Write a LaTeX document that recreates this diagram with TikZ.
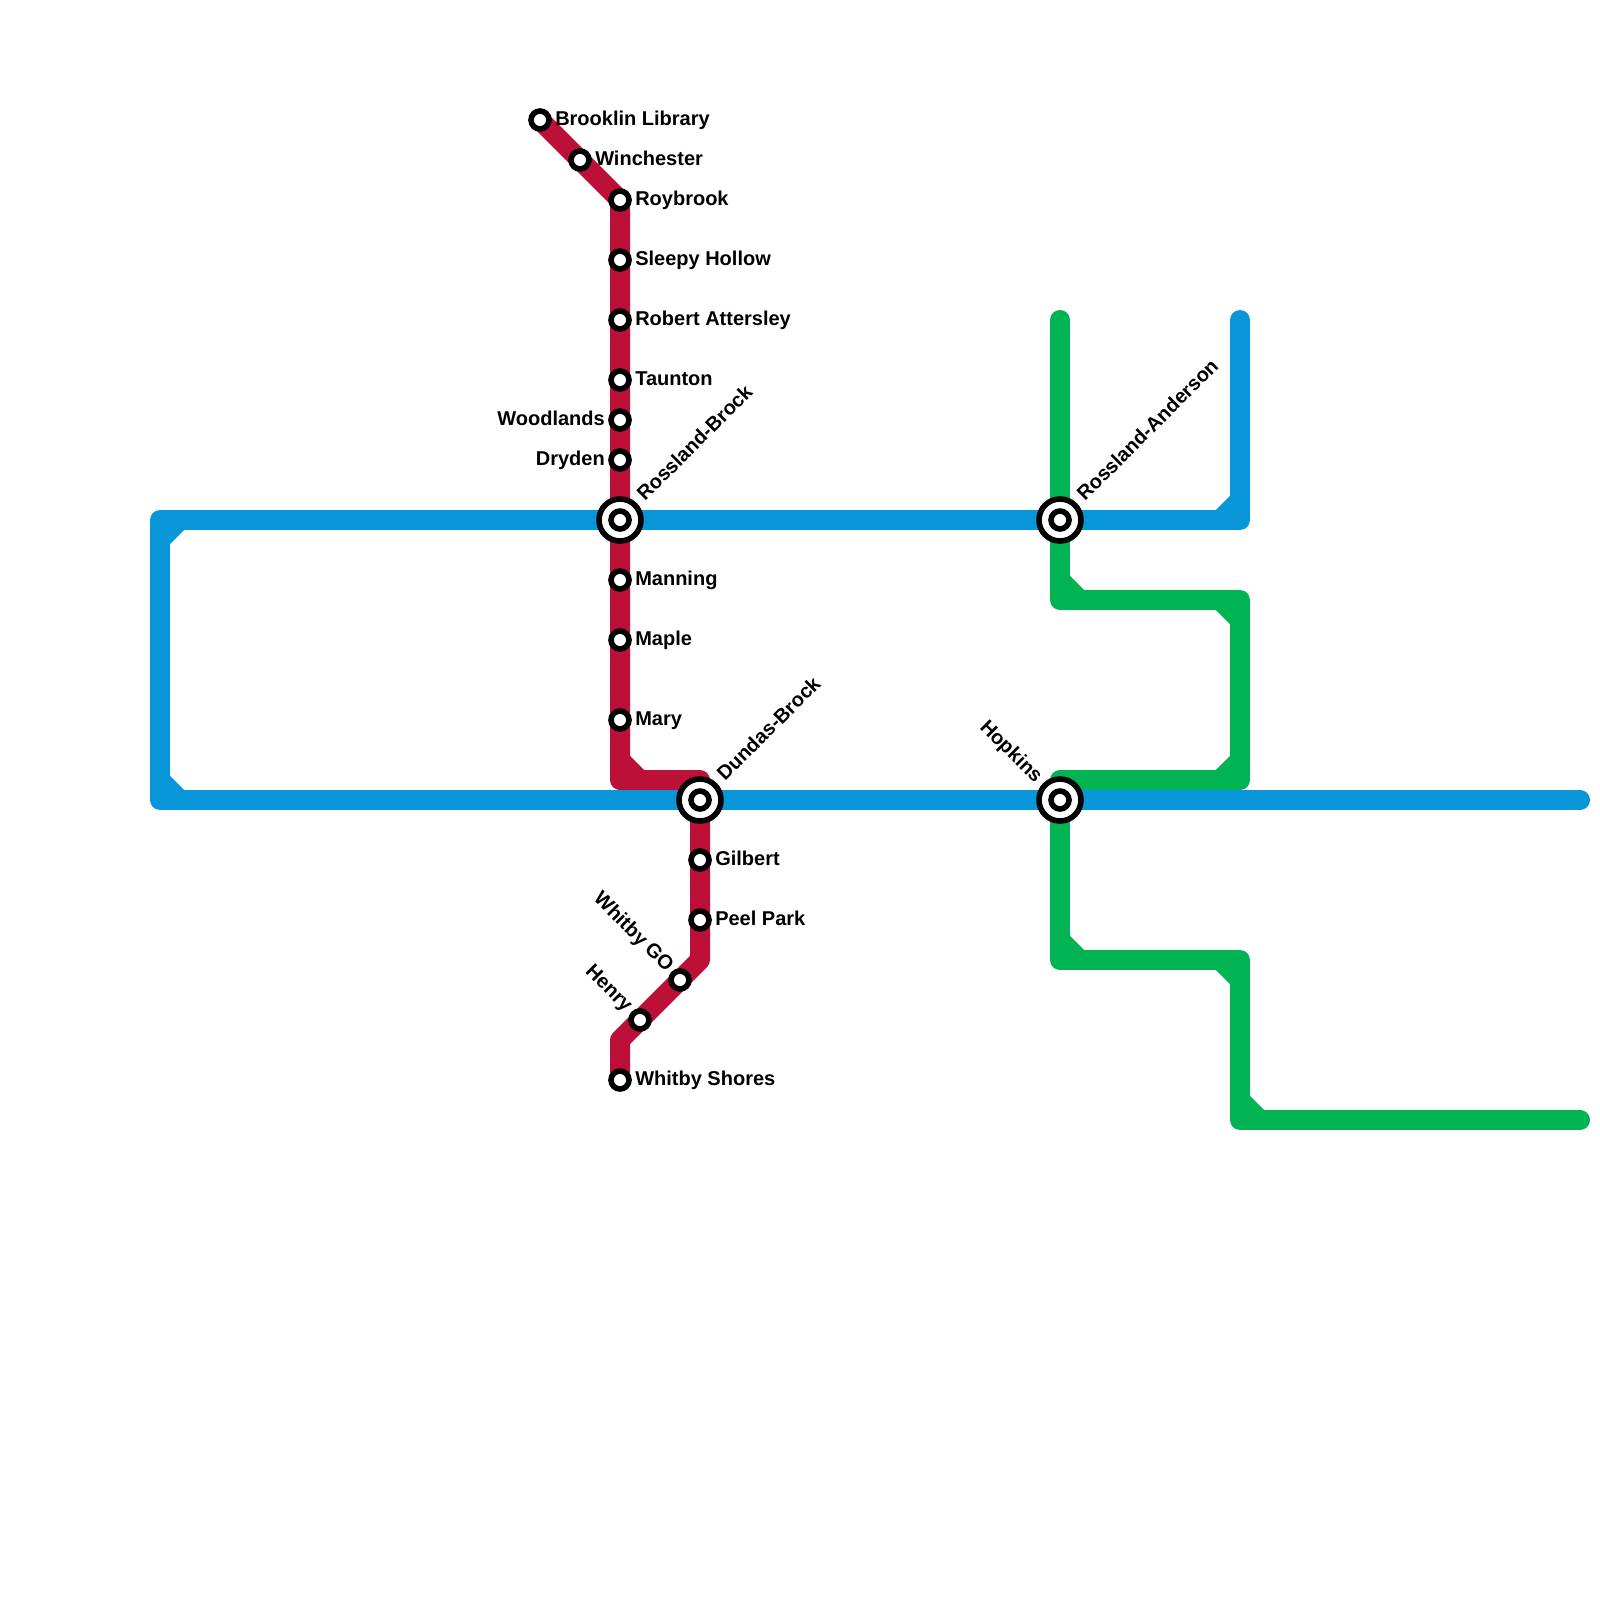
\documentclass[tikz,border=0pt]{standalone}
\usepackage{fontspec}
\setmainfont{Liberation Sans}
\definecolor{redline}{RGB}{189,16,56}
\definecolor{blueline}{RGB}{8,150,216}
\definecolor{greenline}{RGB}{0,179,83}
\tikzset{
  metroline/.style={line width=15pt,line join=round,line cap=round},
  chamfer/.style={line width=15pt,line cap=butt},
  stop/.style={circle,draw=black,fill=white,line width=4.2pt,minimum size=13.5pt,inner sep=0pt},
  hubout/.style={circle,draw=black,fill=white,line width=4.2pt,minimum size=31.5pt,inner sep=0pt},
  stoplabel/.style={inner sep=0pt,font=\bfseries\fontsize{15pt}{18pt}\selectfont,text=black}
}
\begin{document}
\begin{tikzpicture}[x=0.75pt,y=0.75pt,yscale=-1,xscale=1]
\useasboundingbox (0,0) rectangle (1600,1600);

% Stops on the red line
\foreach \n/\px/\py in {brooklin/540/120,winchester/580/160,roybrook/620/200,sleepy/620/260,attersley/620/320,taunton/620/380,woodlands/620/420,dryden/620/460,rosslandbrock/620/520,manning/620/580,maple/620/640,mary/620/720,dundasbrock/700/800,gilbert/700/860,peelpark/700/920,whitbygo/680/980,henry/640/1020,shores/620/1080}
  \coordinate (\n) at (\px,\py);
% Other stops and bends
\coordinate (rosslandanderson) at (1060,520);
\coordinate (hopkins) at (1060,800);
\coordinate (redA) at (620,780);
\coordinate (redB) at (700,780);
\coordinate (redC) at (700,960);
\coordinate (redD) at (620,1040);
\coordinate (blueA) at (1240,320);
\coordinate (blueB) at (1240,520);
\coordinate (blueC) at (160,520);
\coordinate (blueD) at (160,800);
\coordinate (blueE) at (1580,800);
\coordinate (greenA) at (1060,320);
\coordinate (greenB) at (1060,600);
\coordinate (greenC) at (1240,600);
\coordinate (greenD) at (1240,780);
\coordinate (greenE) at (1060,780);
\coordinate (greenF) at (1060,960);
\coordinate (greenG) at (1240,960);
\coordinate (greenH) at (1240,1120);
\coordinate (greenI) at (1580,1120);

% Red line
\draw [metroline,redline,line cap=butt] (brooklin) -- (winchester) -- (roybrook) -- (sleepy) -- (attersley) -- (taunton) -- (woodlands) -- (dryden) -- (rosslandbrock) -- (manning) -- (maple) -- (mary) -- (redA) -- (redB) -- (dundasbrock) -- (gilbert) -- (peelpark) -- (redC) -- (whitbygo) -- (henry) -- (redD) -- (shores);
\draw [chamfer,redline] (redA) ++(0,-20) -- ++(20,20);

% Green line
\draw [metroline,greenline] (greenA) -- (rosslandanderson) -- (greenB) -- (greenC) -- (greenD) -- (greenE) -- (hopkins) -- (greenF) -- (greenG) -- (greenH) -- (greenI);
\foreach \c/\ax/\ay/\bx/\by in {greenB/0/-20/20/20,greenC/-20/0/20/20,greenD/-20/0/20/-20,greenF/0/-20/20/20,greenG/-20/0/20/20,greenH/0/-20/20/20}
  \draw [chamfer,greenline] (\c) ++(\ax,\ay) -- ++(\bx,\by);

% Blue line
\draw [metroline,blueline] (blueA) -- (blueB) -- (rosslandanderson) -- (rosslandbrock) -- (blueC) -- (blueD) -- (dundasbrock) -- (hopkins) -- (blueE);
\foreach \c/\ax/\ay/\bx/\by in {blueB/-20/0/20/-20,blueC/20/0/-20/20,blueD/0/-20/20/20}
  \draw [chamfer,blueline] (\c) ++(\ax,\ay) -- ++(\bx,\by);

% Stops
\foreach \n in {brooklin,winchester,roybrook,sleepy,attersley,taunton,woodlands,dryden,manning,maple,mary,gilbert,peelpark,whitbygo,henry,shores}
  \node [stop] (\n-stop) at (\n) {};
\foreach \n in {rosslandbrock,dundasbrock,rosslandanderson,hopkins} {
  \node [hubout] (\n-hub) at (\n) {};
  \node [stop] (\n-stop) at (\n) {};
}

% Labels to the right
\foreach \n/\t in {brooklin/Brooklin Library,winchester/Winchester,roybrook/Roybrook,sleepy/Sleepy Hollow,attersley/Robert Attersley,taunton/Taunton,manning/Manning,maple/Maple,mary/Mary,gilbert/Gilbert,peelpark/Peel Park,shores/Whitby Shores}
  \path (\n) ++(15,5) node (\n-label) [stoplabel,anchor=base west] {\t};
% Labels to the left
\foreach \n/\t in {woodlands/Woodlands,dryden/Dryden}
  \path (\n) ++(-15,5) node (\n-label) [stoplabel,anchor=base east] {\t};
% Slanted labels
\foreach \n/\t in {rosslandbrock/Rossland-Brock,dundasbrock/Dundas-Brock,rosslandanderson/Rossland-Anderson}
  \path (\n) ++(25,-18) node (\n-label) [stoplabel,anchor=base west,rotate=45] {\t};
\path (hopkins) ++(-25,-16) node (hopkins-label) [stoplabel,anchor=base east,rotate=-45] {Hopkins};
\path (whitbygo) ++(-14,-7) node (whitbygo-label) [stoplabel,anchor=base east,rotate=-45] {Whitby GO};
\path (henry) ++(-15,-7) node (henry-label) [stoplabel,anchor=base east,rotate=-45] {Henry};

\end{tikzpicture}
\end{document}
